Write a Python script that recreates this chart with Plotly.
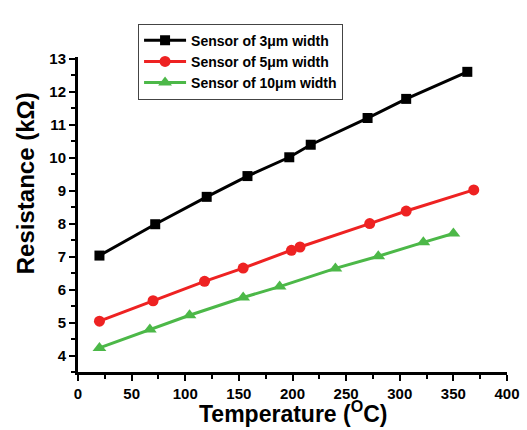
import plotly.graph_objects as go

temp_3um = [20, 72, 120, 158, 197, 217, 270, 306, 363]
res_3um = [7.03, 7.98, 8.81, 9.44, 10.01, 10.39, 11.2, 11.78, 12.6]

temp_5um = [20, 70, 118, 154, 199, 207, 272, 306, 369]
res_5um = [5.04, 5.66, 6.25, 6.65, 7.19, 7.29, 8.0, 8.38, 9.02]

temp_10um = [20, 67, 104, 154, 188, 240, 280, 322, 350]
res_10um = [4.23, 4.79, 5.22, 5.76, 6.09, 6.64, 7.01, 7.43, 7.70]

names = ["Sensor of 3\u03bcm width", "Sensor of 5\u03bcm width", "Sensor of 10\u03bcm width"]
x_title = "Temperature (<sup>O</sup>C)"
y_title = "Resistance (k\u03a9)"
FONT = "Liberation Sans, Arial, sans-serif"

fig = go.Figure()
fig.add_trace(go.Scatter(x=temp_3um, y=res_3um, mode="lines+markers", name=names[0],
                         line=dict(color="black", width=3),
                         marker=dict(symbol="square", size=10, color="black")))
fig.add_trace(go.Scatter(x=temp_5um, y=res_5um, mode="lines+markers", name=names[1],
                         line=dict(color="#ee2222", width=3),
                         marker=dict(symbol="circle", size=11, color="#ee2222")))
fig.add_trace(go.Scatter(x=temp_10um, y=res_10um, mode="lines+markers", name=names[2],
                         line=dict(color="#4cb848", width=3),
                         marker=dict(symbol="triangle-up", size=12, color="#4cb848")))

fig.update_layout(
    width=527, height=430,
    margin=dict(l=78, r=20, t=57, b=58, autoexpand=False),
    paper_bgcolor="white", plot_bgcolor="white",
    font=dict(family=FONT, color="black", size=15, weight="bold"),
    showlegend=True,
    legend=dict(x=0.14, y=1.106, xanchor="left", yanchor="top",
                bgcolor="white", bordercolor="#444444", borderwidth=1,
                font=dict(size=14, family=FONT, weight="bold"),
                itemwidth=42, tracegroupgap=0),
    annotations=[
        dict(text=x_title, xref="paper", yref="paper", x=0.501, y=-0.181,
             xanchor="center", yanchor="bottom", showarrow=False,
             font=dict(size=23, family=FONT, weight="bold")),
        dict(text=y_title, xref="paper", yref="paper", x=-0.123, y=0.6,
             xanchor="center", yanchor="middle", textangle=-90, showarrow=False,
             font=dict(size=24, family=FONT, weight="bold")),
    ],
)
fig.update_xaxes(
    range=[0, 400], tickvals=list(range(0, 401, 50)), automargin=False,
    showline=True, linecolor="black", linewidth=3,
    ticks="outside", ticklen=6, tickwidth=2, tickcolor="black",
    minor=dict(ticks="outside", ticklen=4, tickwidth=2, tickcolor="black", dtick=25),
    showgrid=False, zeroline=False,
    tickfont=dict(size=15, family=FONT, weight="bold"),
)
fig.update_yaxes(
    range=[3.5, 13.05], tickvals=list(range(4, 14)), automargin=False,
    showline=True, linecolor="black", linewidth=3,
    ticks="outside", ticklen=6, tickwidth=2, tickcolor="black",
    minor=dict(ticks="outside", ticklen=4, tickwidth=2, tickcolor="black", dtick=0.5),
    showgrid=False, zeroline=False,
    tickfont=dict(size=15, family=FONT, weight="bold"),
)

fig.write_html("out.html", config={"displayModeBar": False},
               post_script="document.body.style.margin='0px';")
